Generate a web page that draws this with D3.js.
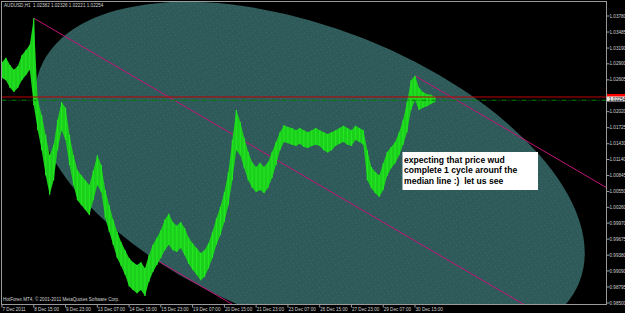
<!DOCTYPE html>
<html><head><meta charset="utf-8">
<script src="https://cdn.jsdelivr.net/npm/d3@7/dist/d3.min.js"></script>
<style>html,body{margin:0;padding:0;background:#000;overflow:hidden}svg{display:block}</style>
</head><body>
<svg id="chart" width="625" height="313"></svg>
<script>
const titleText = "AUDUSD,H1  1.02382 1.02326 1.02221 1.02254";
const copyrightText = "HotForex MT4, \u00a9 2001-2011 MetaQuotes Software Corp.";
const noteLines = ["expecting that price wud","complete 1 cycle arounf the","median line :)  let us see"];
const priceTicks = [1.03780,1.03485,1.03190,1.02900,1.02605,1.02020,1.01725,1.01430,1.01140,1.00845,1.00550,1.00260,0.99970,0.99675,0.99380,0.99090,0.98795,0.98500];
const timeLabels = ["7 Dec 2011","8 Dec 15:00","9 Dec 23:00","13 Dec 07:00","14 Dec 15:00","15 Dec 23:00","19 Dec 07:00","20 Dec 15:00","21 Dec 23:00","23 Dec 07:00","26 Dec 15:00","27 Dec 23:00","29 Dec 07:00","30 Dec 15:00"];
const timeLabelBars = [0,32,64,96,128,160,192,224,256,288,320,352,384,416];
const sampleStep = 4; // hourly bars, one sample every 4 bars
const highs = [1.0293,1.0301,1.0288,1.0279,1.0286,1.0306,1.0315,1.0325,1.0374,
  1.0223,1.0196,1.0159,1.0122,1.0141,1.0187,1.0220,1.0209,1.0159,1.0122,1.0094,1.0085,1.0076,1.0067,1.0094,1.0122,1.0104,1.0058,1.0030,1.0003,0.9981,0.9962,0.9947,0.9933,
  0.9925,0.9920,0.9925,0.9914,0.9938,0.9957,0.9970,0.9984,1.0003,1.0014,0.9999,0.9992,0.9999,0.9988,0.9970,0.9960,0.9951,0.9942,0.9947,0.9960,0.9981,
  1.0006,1.0027,1.0054,1.0091,1.0150,1.0205,1.0183,1.0154,1.0128,1.0109,1.0100,1.0108,1.0100,1.0109,1.0128,1.0146,1.0164,1.0177,
  1.0174,1.0172,1.0168,1.0172,1.0168,1.0164,1.0168,1.0172,1.0168,1.0164,1.0161,1.0164,1.0168,1.0172,1.0176,1.0172,1.0168,1.0176,1.0172,1.0168,
  1.0131,1.0100,1.0091,1.0085,1.0107,1.0128,1.0137,1.0146,1.0164,1.0187,1.0220,1.0260,1.0268,1.0246,1.0238,1.0234,1.0233,1.0229];
const lows = [1.0264,1.0260,1.0246,1.0238,1.0246,1.0260,1.0269,1.0279,1.0214,
  1.0168,1.0131,1.0085,1.0049,1.0076,1.0131,1.0168,1.0150,1.0104,1.0067,1.0039,1.0030,1.0021,1.0012,1.0039,1.0067,1.0054,1.0006,0.9981,0.9957,0.9933,0.9918,0.9902,0.9881,
  0.9874,0.9868,0.9874,0.9863,0.9889,0.9907,0.9920,0.9933,0.9947,0.9957,0.9947,0.9944,0.9951,0.9938,0.9922,0.9911,0.9902,0.9892,0.9898,0.9914,0.9933,
  0.9957,0.9975,0.9999,1.0030,1.0076,1.0131,1.0122,1.0098,1.0076,1.0062,1.0054,1.0058,1.0052,1.0062,1.0080,1.0104,1.0131,1.0146,
  1.0144,1.0141,1.0139,1.0143,1.0137,1.0135,1.0139,1.0141,1.0139,1.0131,1.0127,1.0131,1.0139,1.0143,1.0146,1.0141,1.0139,1.0150,1.0146,1.0141,
  1.0076,1.0061,1.0052,1.0045,1.0058,1.0084,1.0098,1.0107,1.0122,1.0141,1.0164,1.0205,1.0223,1.0205,1.0209,1.0212,1.0216,1.0220];
const lastPrice = 1.02254;
const redLevel = 1.0229;
const medianLevel = 1.0223;
const trendA = [[32,1.0374],[421,0.9959]];   // line from the spike high
const lowerLineStart = [150,0.9935];          // parallel segment along the lower edge
const trendBStart = [416,1.0268];             // parallel ray from the recent high
const ellipseObj = {centerBar:310, centerPrice:1.0085, semiA:147, semiB:290, tiltDeg:-68.4};

const svg = d3.select("#chart");
const L=1.5, R=606.5, T=1.5, B=304.5;
const x = d3.scaleLinear().domain([0,416]).range([2,415]);
const y = d3.scaleLinear().domain([0.98500,1.03780]).range([303,16]);
const font = "Liberation Sans, Arial, sans-serif";
const axisCol = "#9a9a9a", txtCol = "#d2d2d2", pink = "#c41478";

svg.append("rect").attr("width",625).attr("height",313).attr("fill","#000");
const defs = svg.append("defs");
defs.append("clipPath").attr("id","plotClip").append("rect").attr("x",L).attr("y",T).attr("width",R-L).attr("height",B-T);
const pat = defs.append("pattern").attr("id","speck").attr("patternUnits","userSpaceOnUse").attr("width",9).attr("height",7);
pat.append("rect").attr("width",9).attr("height",7).attr("fill","#2e5a5a");
[[1,1],[5,3],[3,5],[7,6]].forEach(([a,b])=>pat.append("rect").attr("x",a).attr("y",b).attr("width",1).attr("height",1).attr("fill","#3f6a6a"));
const plot = svg.append("g").attr("clip-path","url(#plotClip)");

const ecx = x(ellipseObj.centerBar), ecy = y(ellipseObj.centerPrice);
plot.append("ellipse").attr("cx",ecx).attr("cy",ecy).attr("rx",ellipseObj.semiA).attr("ry",ellipseObj.semiB)
  .attr("transform",`rotate(${ellipseObj.tiltDeg},${ecx},${ecy})`).attr("fill","url(#speck)");

// trend lines
const slopeA=(y(trendA[1][1])-y(trendA[0][1]))/(x(trendA[1][0])-x(trendA[0][0]));
function ray(bar,price){const x0=x(bar),y0=y(price);
  plot.append("line").attr("x1",x0).attr("y1",y0).attr("x2",R).attr("y2",y0+slopeA*(R-x0)).attr("stroke",pink).attr("stroke-width",1);}
ray(trendA[0][0],trendA[0][1]);
ray(lowerLineStart[0],lowerLineStart[1]);
ray(trendBStart[0],trendBStart[1]);

// price bars
const bars = highs.map((h,i)=>({bar:i*sampleStep,hi:h,lo:lows[i]}));
plot.append("path").datum(bars).attr("fill","#1ccf1c")
  .attr("d",d3.area().x(d=>x(d.bar)).y0(d=>y(d.lo)).y1(d=>y(d.hi)));
plot.selectAll("line.bar").data(bars).join("line").attr("class","bar")
  .attr("x1",d=>x(d.bar)).attr("x2",d=>x(d.bar)).attr("y1",d=>y(d.hi)).attr("y2",d=>y(d.lo))
  .attr("stroke","#22e622").attr("stroke-width",1.2);

// horizontal levels
plot.append("line").attr("x1",L).attr("x2",R).attr("y1",y(redLevel)).attr("y2",y(redLevel)).attr("stroke","#c00000").attr("stroke-width",1);
plot.append("line").attr("x1",L).attr("x2",R).attr("y1",y(medianLevel)).attr("y2",y(medianLevel)).attr("stroke","#008000").attr("stroke-width",1).attr("stroke-dasharray","5,2,1,2");

// note box
const nb = svg.append("g");
nb.append("rect").attr("x",402.5).attr("y",152).attr("width",135.5).attr("height",38).attr("fill","#fff");
noteLines.forEach((t,i)=>nb.append("text").attr("x",404).attr("y",162.5+i*10.5).text(t).style("white-space","pre")
  .attr("font-family",font).attr("font-weight","bold").attr("font-size",8.6).attr("fill","#000"));

// frame & axes
svg.append("rect").attr("x",L).attr("y",T).attr("width",R-L).attr("height",B-T).attr("fill","none").attr("stroke",axisCol);
const yt = svg.append("g");
priceTicks.forEach(p=>{yt.append("line").attr("x1",R).attr("x2",R+3).attr("y1",y(p)).attr("y2",y(p)).attr("stroke",axisCol);
  yt.append("text").attr("x",R+3).attr("y",y(p)).attr("dy","0.35em").text(p.toFixed(5)).attr("font-family",font).attr("font-size",4.6).attr("fill",txtCol);});
svg.append("rect").attr("x",607).attr("y",y(redLevel)-3).attr("width",18).attr("height",4).attr("fill","#ff0000");
svg.append("rect").attr("x",607).attr("y",y(lastPrice)-2.5).attr("width",18).attr("height",5).attr("fill","#e8e8e8");
svg.append("text").attr("x",609).attr("y",y(lastPrice)).attr("dy","0.35em").text(lastPrice.toFixed(5)).attr("font-family",font).attr("font-size",4.6).attr("fill","#000");
const xt = svg.append("g");
timeLabels.forEach((t,i)=>{const px=x(timeLabelBars[i]);
  xt.append("line").attr("x1",px).attr("x2",px).attr("y1",B).attr("y2",B+3).attr("stroke",axisCol);
  xt.append("text").attr("x",px+0.5).attr("y",310.5).text(t).attr("font-family",font).attr("font-size",4.6).attr("fill",txtCol);});
svg.append("text").attr("x",4).attr("y",7).text(titleText).style("white-space","pre").attr("font-family",font).attr("font-size",4.6).attr("fill",txtCol);
svg.append("text").attr("x",3).attr("y",301).text(copyrightText).attr("font-family",font).attr("font-size",4.6).attr("fill",txtCol);
</script>
</body></html>
